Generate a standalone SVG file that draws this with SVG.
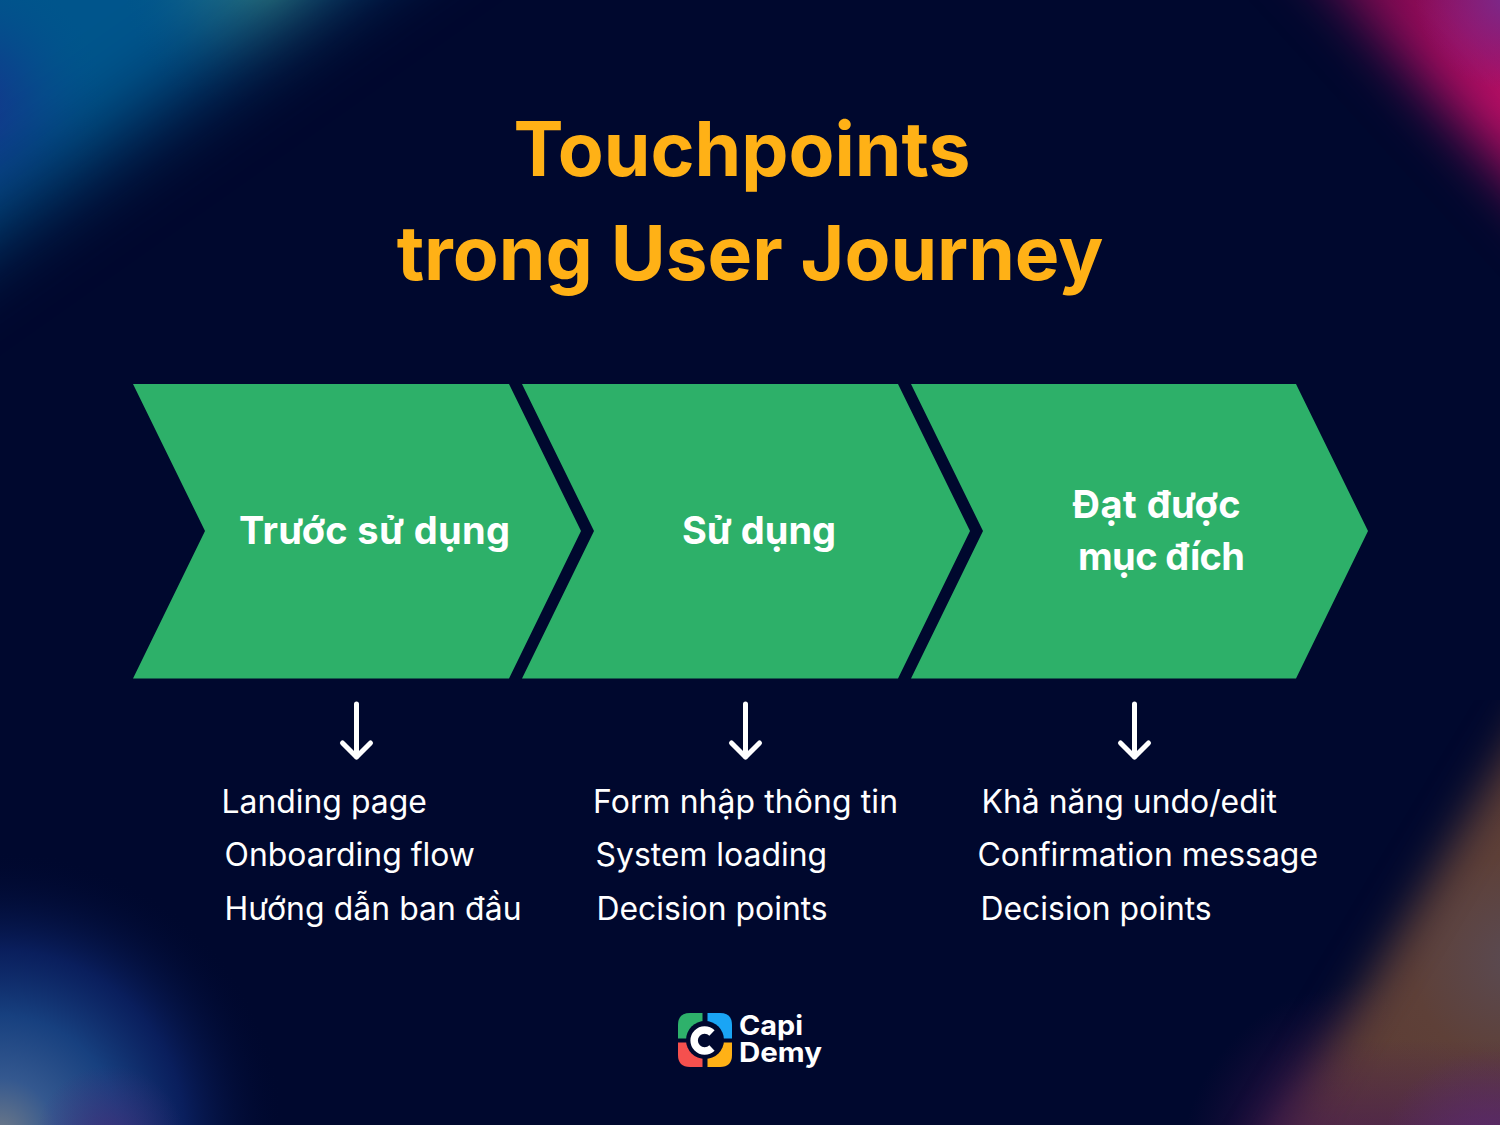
<svg xmlns="http://www.w3.org/2000/svg" width="1500" height="1125" viewBox="0 0 1500 1125">
<style>
text{font-family:Inter,"Noto Sans",sans-serif}
.title{font-size:75px;font-weight:700;fill:#ffb116;text-anchor:middle}
.head{font-size:38px;font-weight:700;fill:#fff;text-anchor:middle}
.item{font-size:31.900px;font-weight:400;fill:#fff}
.chev{fill:#2db069}
.arr{fill:none;stroke:#fff;stroke-width:5;stroke-linecap:round;stroke-linejoin:round}
.logo{font-size:27px;font-weight:700;fill:#fff}
</style>
<defs>
<filter id="b40" filterUnits="userSpaceOnUse" x="-300" y="-300" width="2100" height="1800"><feGaussianBlur stdDeviation="42"/></filter>
<filter id="b28" filterUnits="userSpaceOnUse" x="-300" y="-300" width="2100" height="1800"><feGaussianBlur stdDeviation="28"/></filter>
<filter id="b22" filterUnits="userSpaceOnUse" x="-300" y="-300" width="2100" height="1800"><feGaussianBlur stdDeviation="22"/></filter>
<mask id="mtl" maskUnits="userSpaceOnUse" x="0" y="0" width="1500" height="1125"><polygon points="-150,-150 530,-150 -150,330" fill="#fff" filter="url(#b40)"/></mask>
<mask id="mtr" maskUnits="userSpaceOnUse" x="0" y="0" width="1500" height="1125"><polygon points="1210,-150 1700,-150 1700,390" fill="#fff" filter="url(#b28)"/></mask>
<mask id="mbr" maskUnits="userSpaceOnUse" x="0" y="0" width="1500" height="1125"><polygon points="1555,673 1700,673 1700,1300 1180,1300" fill="#fff" filter="url(#b22)"/></mask>
<radialGradient id="tl1" gradientUnits="userSpaceOnUse" cx="-40" cy="110" r="150"><stop offset="0" stop-color="#1a2c8e"/><stop offset=".45" stop-color="#0f3c8c" stop-opacity=".6"/><stop offset="1" stop-color="#00558c" stop-opacity="0"/></radialGradient>
<radialGradient id="tl2" gradientUnits="userSpaceOnUse" cx="270" cy="-20" r="150"><stop offset="0" stop-color="#2f8085"/><stop offset=".5" stop-color="#1c6d88" stop-opacity=".55"/><stop offset="1" stop-color="#00558c" stop-opacity="0"/></radialGradient>
<radialGradient id="tr" gradientUnits="userSpaceOnUse" cx="1510" cy="100" r="260"><stop offset="0" stop-color="#b50e64"/><stop offset=".3" stop-color="#a00c5e"/><stop offset=".65" stop-color="#800a52"/><stop offset="1" stop-color="#5a0a48"/></radialGradient>
<radialGradient id="tr2" gradientUnits="userSpaceOnUse" cx="1510" cy="-5" r="95"><stop offset="0" stop-color="#7a2a8c"/><stop offset="1" stop-color="#7a2a8c" stop-opacity="0"/></radialGradient>
<radialGradient id="bl" gradientUnits="userSpaceOnUse" cx="0" cy="1135" r="285"><stop offset="0" stop-color="#6f7a88"/><stop offset=".2" stop-color="#34588f"/><stop offset=".42" stop-color="#17407f"/><stop offset=".65" stop-color="#0c2468" stop-opacity=".8"/><stop offset="1" stop-color="#00082e" stop-opacity="0"/></radialGradient>
<radialGradient id="bl2" gradientUnits="userSpaceOnUse" cx="110" cy="1140" r="75"><stop offset="0" stop-color="#4a2a78" stop-opacity=".7"/><stop offset="1" stop-color="#4a2a78" stop-opacity="0"/></radialGradient>
<radialGradient id="br" gradientUnits="userSpaceOnUse" cx="1515" cy="960" r="260"><stop offset="0" stop-color="#5a4a52"/><stop offset=".4" stop-color="#5e4038"/><stop offset="1" stop-color="#5c3a32"/></radialGradient>
<radialGradient id="br2" gradientUnits="userSpaceOnUse" cx="1490" cy="1160" r="110"><stop offset="0" stop-color="#5c2a70"/><stop offset="1" stop-color="#5c2a70" stop-opacity="0"/></radialGradient>
<linearGradient id="br3" gradientUnits="userSpaceOnUse" x1="0" y1="1040" x2="0" y2="1125"><stop offset="0" stop-color="#4a1c55" stop-opacity="0"/><stop offset="1" stop-color="#4a1c55" stop-opacity=".6"/></linearGradient>
<radialGradient id="br4" gradientUnits="userSpaceOnUse" cx="1370" cy="1170" r="190"><stop offset="0" stop-color="#5a2450" stop-opacity=".85"/><stop offset=".55" stop-color="#481a50" stop-opacity=".6"/><stop offset="1" stop-color="#2a0f40" stop-opacity="0"/></radialGradient>
</defs>
<g id="background">
<rect width="1500" height="1125" fill="#00082e"/>
<g mask="url(#mtl)">
<rect width="560" height="360" fill="#00558c"/>
<rect width="560" height="360" fill="url(#tl1)"/>
<rect width="560" height="360" fill="url(#tl2)"/>
</g>
<g mask="url(#mtr)">
<rect x="1200" width="300" height="400" fill="url(#tr)"/>
<rect x="1400" width="100" height="90" fill="url(#tr2)"/>
</g>
<rect y="840" width="290" height="285" fill="url(#bl)"/>
<rect x="35" y="1060" width="150" height="65" fill="url(#bl2)"/>
<rect x="1170" y="970" width="330" height="155" fill="url(#br4)"/>
<g mask="url(#mbr)">
<rect x="1150" y="700" width="350" height="425" fill="url(#br)"/>
<rect x="1150" y="1040" width="350" height="85" fill="url(#br3)"/>
<rect x="1380" y="1050" width="120" height="75" fill="url(#br2)"/>
</g>
</g>
<g id="title">
<text class="title" x="742" y="176">Touchpoints</text>
<text class="title" x="750" y="280">trong User Journey</text>
</g>
<g id="node-1">
<polygon class="chev" points="133,384 509,384 581,531 509,678.500 133,678.500 205,531"/>
<text class="head" x="374.500" y="544" textLength="271" lengthAdjust="spacing">Trước sử dụng</text>
<text class="item" x="221.500" y="813">Landing page</text>
<text class="item" x="224.500" y="866">Onboarding flow</text>
<text class="item" x="224.500" y="920" textLength="297" lengthAdjust="spacing">Hướng dẫn ban đầu</text>
</g>
<g id="node-2">
<polygon class="chev" points="522,384 898,384 970,531 898,678.500 522,678.500 594,531"/>
<text class="head" x="759" y="544">Sử dụng</text>
<text class="item" x="593" y="813" textLength="305" lengthAdjust="spacing">Form nhập thông tin</text>
<text class="item" x="595.500" y="866">System loading</text>
<text class="item" x="596.500" y="920">Decision points</text>
</g>
<g id="node-3">
<polygon class="chev" points="911,384 1296,384 1368,531 1296,678.500 911,678.500 983,531"/>
<text class="head" x="1156.500" y="518" textLength="168" lengthAdjust="spacing">Đạt được</text>
<text class="head" x="1161.500" y="570" textLength="167" lengthAdjust="spacing">mục đích</text>
<text class="item" x="981.500" y="813">Khả năng undo/edit</text>
<text class="item" x="977.500" y="866">Confirmation message</text>
<text class="item" x="980.500" y="920">Decision points</text>
</g>
<g id="connectors">
<path class="arr" d="M356.500 704V757M342.500 743L356.500 757L370.500 743"/>
<path class="arr" d="M745.500 704V757M731.500 743L745.500 757L759.500 743"/>
<path class="arr" d="M1134.500 704V757M1120.500 743L1134.500 757L1148.500 743"/>
</g>
<g id="logo">
<path d="M702.500 1013H690Q678 1013 678 1025V1038.500H702.500Z" fill="#2eb16b"/>
<path d="M707.500 1013H720Q732 1013 732 1025V1038.500H707.500Z" fill="#1aa5f5"/>
<path d="M702.500 1067H690Q678 1067 678 1055V1042.500H702.500Z" fill="#f5504e"/>
<path d="M707.500 1067H720Q732 1067 732 1055V1042.500H707.500Z" fill="#ffb116"/>
<circle cx="705" cy="1040" r="19" fill="#00082e"/>
<path d="M712 1033A10.500 10.500 0 1 0 712 1048" fill="none" stroke="#fff" stroke-width="7.500"/>
<text class="logo" x="739" y="1035" textLength="64" lengthAdjust="spacingAndGlyphs">Capi</text>
<text class="logo" x="739" y="1062" textLength="83" lengthAdjust="spacingAndGlyphs">Demy</text>
</g>
</svg>
